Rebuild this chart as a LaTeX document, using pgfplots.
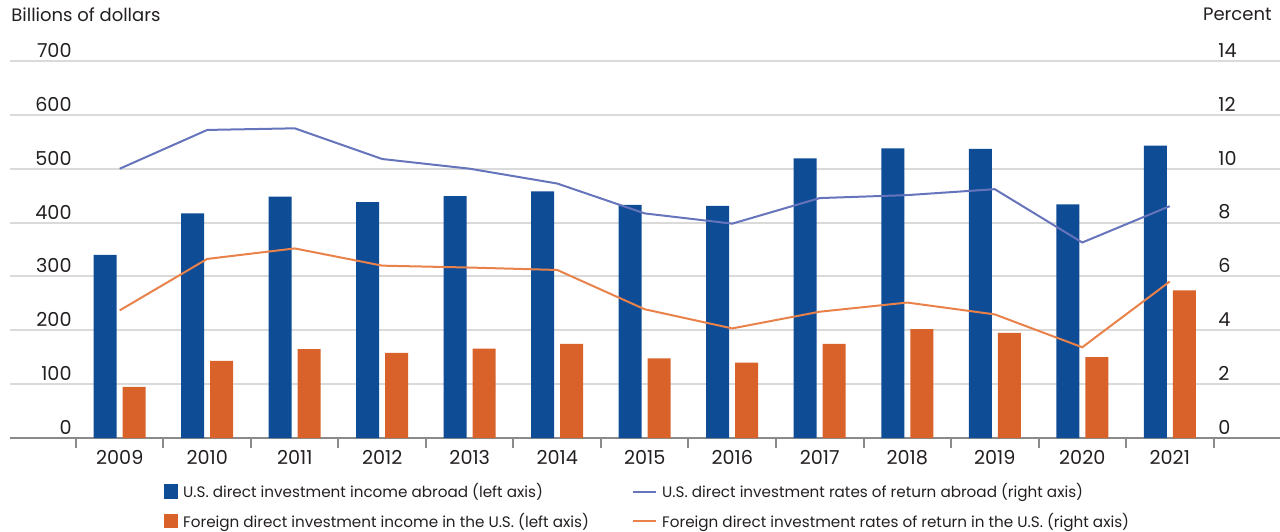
\documentclass[border=0pt]{standalone}
\usepackage{pgfplots}
\pgfplotsset{compat=1.18}
\usepackage{pgfplotstable}
\usepackage{fontspec}
\setmainfont{Poppins}

\definecolor{barblue}{HTML}{0E4C96}
\definecolor{barorange}{HTML}{D9622B}
\definecolor{lineblue}{HTML}{6674BC}
\definecolor{lineorange}{HTML}{E8824A}
\definecolor{gridgray}{HTML}{DADADA}
\definecolor{axisgray}{HTML}{8A8A8A}
\definecolor{txt}{HTML}{231F20}

% income, billions of dollars (left axis)
\pgfplotstableread{
yr usabroad foreignus
0  340 95
1  417 143
2  448 165
3  438 158
4  449 166
5  458 175
6  433 148
7  431 140
8  519 175
9  538 202
10 537 195
11 434 150
12 543 274
}\income

% rates of return, percent (right axis)
\pgfplotstableread{
yr usrate forrate
0  10.00 4.74
1  11.44 6.65
2  11.50 7.04
3  10.36 6.40
4  10.00 6.33
5  9.45  6.24
6  8.34  4.78
7  7.96  4.07
8  8.91  4.69
9  9.02  5.03
10 9.24  4.59
11 7.26  3.37
12 8.61  5.81
}\rates

\pgfplotsset{
  common/.style={
    at={(5pt,46.5pt)}, anchor=south west,
    scale only axis, width=635pt, height=188.5pt,
    xmin=-1.254, xmax=13.26,
    /pgf/number format/assume math mode=true,
    major tick length=0pt,
    tick label style={font=\fontsize{9.6}{11}\selectfont},
  },
}

\begin{document}
\begin{tikzpicture}[font=\fontsize{8}{9.6}\selectfont, text=txt]
\useasboundingbox (0,0) rectangle (640pt,265.5pt);

\begin{axis}[
  common,
  ymin=0, ymax=700,
  axis x line*=bottom, axis y line*=left,
  y axis line style={draw=none},
  x axis line style={draw=axisgray, line width=1.2pt},
  ytick={0,100,...,700},
  ymajorgrids, major grid style={draw=gridgray, line width=1pt},
  xtick={0,...,12},
  xticklabels={2009,2010,2011,2012,2013,2014,2015,2016,2017,2018,2019,2020,2021},
  minor xtick={-0.5,0.5,...,12.5},
  tick align=outside,
  minor tick length=5pt,
  minor tick style={draw=axisgray, line width=1pt},
  xticklabel style={anchor=north, inner sep=0pt, yshift=-6pt},
  yticklabel style={anchor=south east, inner sep=0pt, xshift=31pt, yshift=1.5pt},
  ylabel={Billions of dollars},
  every axis y label/.style={at={(rel axis cs:0,1)}, anchor=base west,
    inner sep=0pt, xshift=0.5pt, yshift=20pt, font=\fontsize{9}{11}\selectfont},
  legend columns=2,
  legend style={draw=none, fill=none, inner sep=0pt, outer sep=0pt,
    at={(rel axis cs:0,0)}, anchor=south west, xshift=77pt, yshift=-46.5pt,
    column sep=2.5pt, row sep=4.75pt,
    font=\fontsize{7.6}{9}\selectfont,
    nodes={inner sep=0pt, text height=8pt, text depth=2pt},
    cells={anchor=west}},
]
\addplot[ybar, bar width=11.5pt, bar shift=-7.25pt, fill=barblue, draw=none, forget plot]
  table[x=yr, y=usabroad]{\income};
\addplot[ybar, bar width=11.5pt, bar shift=7.25pt, fill=barorange, draw=none, forget plot]
  table[x=yr, y=foreignus]{\income};

\addlegendimage{legend image code/.code={\fill[barblue] (0pt,-3.35pt) rectangle (6.7pt,3.35pt);}}
\addlegendentry{\makebox[222pt][l]{U.S. direct investment income abroad (left axis)}}
\addlegendimage{legend image code/.code={\draw[lineblue, line width=1pt] (0pt,0pt) -- (11.5pt,0pt);}}
\addlegendentry{U.S. direct investment rates of return abroad (right axis)}
\addlegendimage{legend image code/.code={\fill[barorange] (0pt,-3.35pt) rectangle (6.7pt,3.35pt);}}
\addlegendentry{\makebox[222pt][l]{Foreign direct investment income in the U.S. (left axis)}}
\addlegendimage{legend image code/.code={\draw[lineorange, line width=1pt] (0pt,0pt) -- (11.5pt,0pt);}}
\addlegendentry{Foreign direct investment rates of return in the U.S. (right axis)}
\end{axis}

\begin{axis}[
  common,
  ymin=0, ymax=14,
  axis x line=none, axis y line*=right,
  y axis line style={draw=none},
  ytick={0,2,...,14},
  yticklabel style={anchor=south west, inner sep=0pt, xshift=-31pt, yshift=1.5pt},
  ylabel={Percent},
  every axis y label/.style={at={(rel axis cs:1,1)}, anchor=base east,
    inner sep=0pt, xshift=-4pt, yshift=20pt, font=\fontsize{9}{11}\selectfont},
]
\addplot[lineblue, line width=1pt, mark=none] table[x=yr, y=usrate]{\rates};
\addplot[lineorange, line width=1pt, mark=none] table[x=yr, y=forrate]{\rates};
\end{axis}
\end{tikzpicture}
\end{document}
